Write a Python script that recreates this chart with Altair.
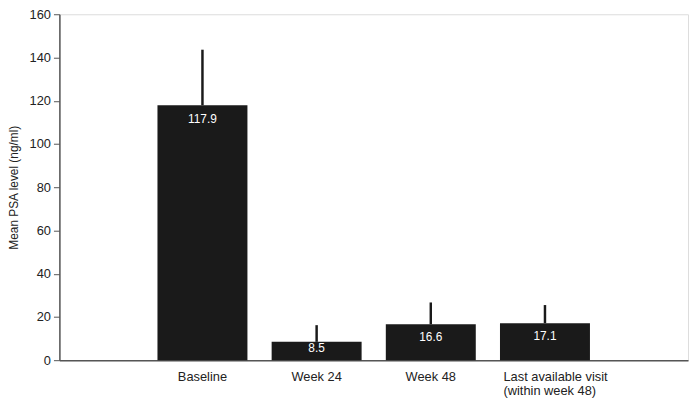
import altair as alt
import pandas as pd

categories = ["Baseline", "Week 24", "Week 48", "Last available visit\n(within week 48)"]
means = [117.9, 8.5, 16.6, 17.1]
upper = [143.6, 16.2, 26.7, 25.5]
y_ticks = [0, 20, 40, 60, 80, 100, 120, 140, 160]

df = pd.DataFrame({"cat": categories, "mean": means, "upper": upper})

x = alt.X("cat:N", sort=categories, title=None,
          scale=alt.Scale(paddingInner=0.212, paddingOuter=0.859),
          axis=alt.Axis(labelExpr="split(datum.label, '\\n')", ticks=False,
                        labelFontSize=13, labelColor="#222", labelPadding=11,
                        labelAngle=0, domainColor="#555", domainWidth=1.5,
                        labelLineHeight=14,
                        labelAlign=alt.condition("indexof(datum.label, 'Last') == 0",
                                                 alt.value("left"), alt.value("center")),
                        labelOffset=alt.condition("indexof(datum.label, 'Last') == 0",
                                                  alt.value(-42), alt.value(0))))
y = alt.Y("mean:Q", title="Mean PSA level (ng/ml)",
          scale=alt.Scale(domain=[0, 160], nice=False),
          axis=alt.Axis(values=y_ticks, grid=False, labelFontSize=13, labelColor="#222",
                        titleFontSize=12, titleFontWeight="normal", titleColor="#222",
                        tickSize=6, tickColor="#555", domainColor="#555", domainWidth=1.5,
                        labelPadding=3, titlePadding=9))

base = alt.Chart(df)
err = base.mark_rule(color="#1a1a1a", strokeWidth=2.5).encode(x=x, y=y, y2="upper:Q")
bars = base.mark_bar(color="#1a1a1a").encode(x=x, y=y)
labels = base.transform_calculate(
    lab_y="datum.mean - min(6.3, datum.mean*0.36)"
).mark_text(color="white", fontSize=12, font="Liberation Sans", baseline="middle").encode(
    x=x, y=alt.Y("lab_y:Q"), text=alt.Text("mean:Q", format=".1f"))

chart = alt.layer(err, bars, labels).properties(
    width=636, height=350, autosize=alt.AutoSizeParams(type="none"),
    padding={"left": 52, "top": 4, "right": 2, "bottom": 42}
).configure_view(strokeWidth=0).configure(font="Liberation Sans")

chart.save("out.html", embed_options={"renderer": "svg", "actions": False})
